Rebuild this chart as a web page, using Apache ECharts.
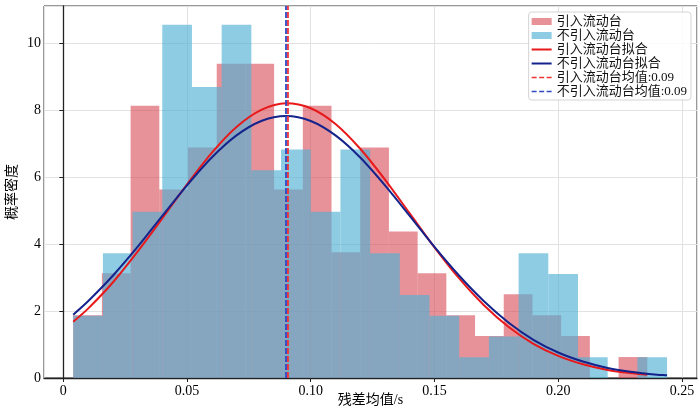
<!DOCTYPE html>
<html lang="zh">
<head>
    <meta charset="UTF-8">
    <title>残差均值分布</title>
    <script src="https://cdn.jsdelivr.net/npm/echarts@6/dist/echarts.min.js"></script>
    <style>
        html, body { margin: 0; padding: 0; background: #fff; }
    </style>
</head>
<body>
    <div id="main" style="width: 700px;height:410px;"></div>

<script type="text/javascript">
    // 直方图分箱边界与密度
    var redEdges = [0.0040, 0.0156, 0.0272, 0.0388, 0.0504, 0.0620, 0.0736, 0.0852, 0.0968, 0.1084,
                    0.1200, 0.1316, 0.1432, 0.1548, 0.1664, 0.1780, 0.1896, 0.2012, 0.2128, 0.2244, 0.2360];
    var redHeights = [1.875, 3.125, 8.125, 5.625, 6.875, 9.375, 9.375, 5.625, 8.125, 3.75,
                      6.875, 4.375, 3.125, 1.875, 1.25, 2.5, 1.875, 1.25, 0, 0.625];

    var blueEdges = [0.0040, 0.0160, 0.0280, 0.0400, 0.0520, 0.0640, 0.0760, 0.0880, 0.1000, 0.1120,
                     0.1240, 0.1360, 0.1480, 0.1600, 0.1720, 0.1840, 0.1960, 0.2080, 0.2200, 0.2320, 0.2440];
    var blueHeights = [1.86, 3.72, 4.96, 10.54, 8.68, 10.54, 6.2, 6.82, 4.96, 6.82,
                       3.72, 2.48, 1.86, 0.62, 1.24, 3.72, 3.1, 0.62, 0, 0.62];

    // 拟合曲线（读图取点）
    var redFitX = [0.004, 0.01, 0.02, 0.03, 0.04, 0.05, 0.06, 0.07, 0.08, 0.09, 0.10, 0.11, 0.12,
                   0.13, 0.14, 0.15, 0.16, 0.17, 0.18, 0.19, 0.20, 0.21, 0.22, 0.23, 0.236];
    var redFitY = [1.68, 2.07, 2.85, 3.77, 4.76, 5.78, 6.72, 7.49, 8.00, 8.20, 8.05, 7.58, 6.84,
                   5.92, 4.91, 3.90, 2.97, 2.17, 1.52, 1.02, 0.66, 0.41, 0.24, 0.14, 0.10];
    var blueFitX = [0.004, 0.01, 0.02, 0.03, 0.04, 0.05, 0.06, 0.07, 0.08, 0.09, 0.10, 0.11, 0.12,
                    0.13, 0.14, 0.15, 0.16, 0.17, 0.18, 0.19, 0.20, 0.21, 0.22, 0.23, 0.24, 0.244];
    var blueFitY = [1.89, 2.29, 3.05, 3.91, 4.84, 5.75, 6.58, 7.24, 7.67, 7.82, 7.67, 7.24, 6.58,
                    5.75, 4.84, 3.91, 3.05, 2.29, 1.65, 1.14, 0.76, 0.49, 0.30, 0.18, 0.10, 0.08];

    var redMean = 0.0908;
    var blueMean = 0.0900;

    var names = ['引入流动台', '不引入流动台', '引入流动台拟合', '不引入流动台拟合',
                 '引入流动台均值:0.09', '不引入流动台均值:0.09'];

    var xMin = -0.0078, xMax = 0.2561;
    var yMin = 0, yMax = 11.1;
    var fontFam = "'Liberation Serif', 'Noto Sans CJK SC', serif";

    // 图例图标：实线与虚线（20x7 框内）
    var solidIcon = 'path://M0,0L0,0M20,7L20,7M0,2.5h20v2h-20z';
    var dashIcon = 'path://M0,0L0,0M20,7L20,7M0,2.8h5v1.4h-5zM7.5,2.8h5v1.4h-5zM15,2.8h5v1.4h-5z';

    function zip(a, b) {
        return a.map(function (v, i) { return [v, b[i]]; });
    }

    function histSeries(name, edges, heights, color) {
        return {
            name: name,
            type: 'custom',
            itemStyle: { color: color },
            encode: { x: [0, 1], y: 2 },
            data: heights.map(function (h, i) { return [edges[i], edges[i + 1], h]; }),
            renderItem: function (params, api) {
                var p0 = api.coord([api.value(0), api.value(2)]);
                var p1 = api.coord([api.value(1), 0]);
                return {
                    type: 'rect',
                    shape: { x: p0[0], y: p0[1], width: p1[0] - p0[0], height: p1[1] - p0[1] },
                    style: api.style()
                };
            }
        };
    }

    function lineSeries(name, data, color, width, dash) {
        return {
            name: name,
            type: 'line',
            data: data,
            symbol: 'none',
            smooth: dash ? false : 0.3,
            lineStyle: { color: color, width: width, type: dash || 'solid' },
            itemStyle: { color: color }
        };
    }

    var myChart = echarts.init(document.getElementById('main'));

    var option = {
        animation: false,
        grid: {
            left: 44, right: 3, top: 6, bottom: 32,
            outerBoundsMode: 'none',
            containLabel: false,
            show: true, borderColor: '#333', borderWidth: 1, backgroundColor: 'transparent'
        },
        legend: {
            orient: 'vertical',
            right: 9, top: 12,
            itemWidth: 20, itemHeight: 7, itemGap: 1,
            padding: [3, 4, 2, 3],
            borderColor: '#d4d4d4', borderWidth: 1, borderRadius: 3,
            backgroundColor: 'rgba(255,255,255,0.85)',
            textStyle: { fontFamily: fontFam, fontSize: 13, color: '#111', lineHeight: 13 },
            data: [
                { name: names[0], icon: 'rect' },
                { name: names[1], icon: 'rect' },
                { name: names[2], icon: solidIcon },
                { name: names[3], icon: solidIcon },
                { name: names[4], icon: dashIcon },
                { name: names[5], icon: dashIcon }
            ]
        },
        xAxis: {
            type: 'value',
            min: xMin, max: xMax,
            name: '残差均值/s',
            nameLocation: 'middle',
            nameGap: 15,
            nameMoveOverlap: false,
            nameTextStyle: { fontFamily: fontFam, fontSize: 14, color: '#000' },
            axisLine: { show: true, lineStyle: { color: '#222', width: 1.3 } },
            axisTick: { show: true, length: 4, lineStyle: { color: '#222' } },
            axisLabel: {
                fontFamily: fontFam, fontSize: 14, color: '#000', margin: 6,
                showMinLabel: false, showMaxLabel: false,
                formatter: function (v) {
                    var k = v / 0.05;
                    if (Math.abs(k - Math.round(k)) > 1e-6) return '';
                    if (Math.abs(v) < 1e-9) return '0';
                    return v.toFixed(2);
                }
            },
            splitLine: { show: true, lineStyle: { color: '#e2e2e2', width: 1 } }
        },
        yAxis: {
            type: 'value',
            min: yMin, max: yMax, interval: 2,
            name: '概率密度',
            nameLocation: 'middle',
            nameGap: 25,
            nameMoveOverlap: false,
            nameRotate: 90,
            nameTextStyle: { fontFamily: fontFam, fontSize: 14, color: '#000' },
            axisLine: { show: true, lineStyle: { color: '#222', width: 1.3 } },
            axisTick: { show: true, length: 4, lineStyle: { color: '#222' } },
            axisLabel: {
                fontFamily: fontFam, fontSize: 14, color: '#000', margin: 3,
                showMaxLabel: false,
                formatter: function (v) {
                    return Math.abs(v / 2 - Math.round(v / 2)) > 1e-6 ? '' : String(v);
                }
            },
            splitLine: { show: true, lineStyle: { color: '#e2e2e2', width: 1 } }
        },
        series: [
            histSeries(names[0], redEdges, redHeights, 'rgba(215,72,83,0.6)'),
            histSeries(names[1], blueEdges, blueHeights, 'rgba(81,177,214,0.65)'),
            lineSeries(names[2], zip(redFitX, redFitY), '#e8191b', 2),
            lineSeries(names[3], zip(blueFitX, blueFitY), '#14238c', 2),
            lineSeries(names[4], [[redMean, yMin], [redMean, yMax]], '#f03434', 1.8, [6, 2]),
            lineSeries(names[5], [[blueMean, yMin], [blueMean, yMax]], '#3048c4', 1.8, [6, 2])
        ]
    };

    myChart.setOption(option);
</script>
</body>
</html>
